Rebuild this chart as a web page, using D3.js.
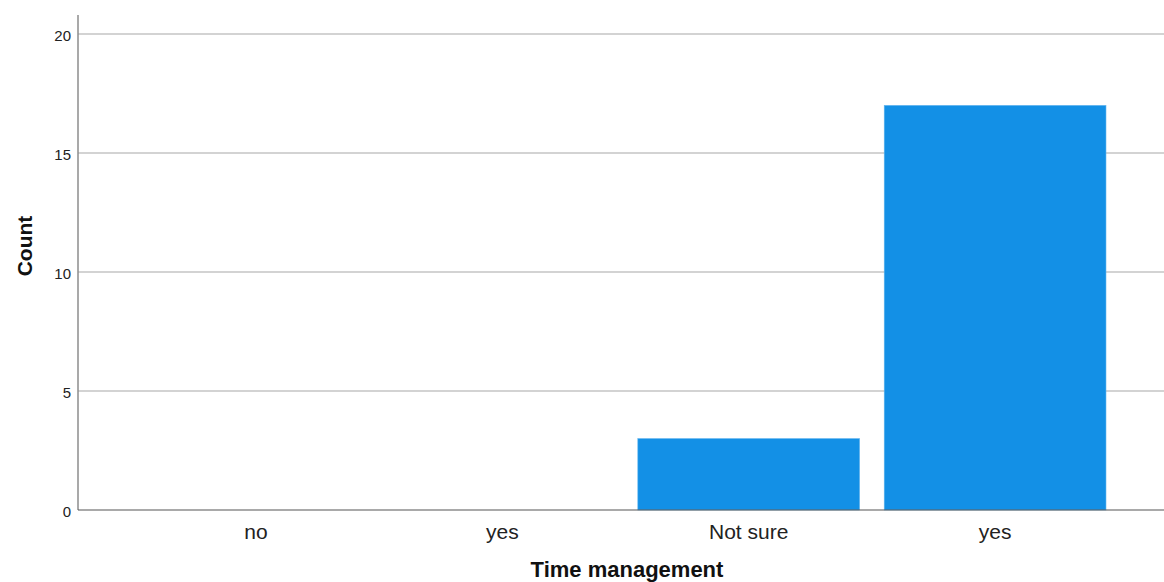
<!DOCTYPE html>
<html>
<head>
<meta charset="utf-8">
<script src="https://cdn.jsdelivr.net/npm/d3@7"></script>
<style>
  body { margin: 0; background: #fff; }
  svg { display: block; font-family: "Liberation Sans", Arial, sans-serif; }
</style>
</head>
<body>
<div id="chart-area"></div>
<script>
// data
const categories = ["no", "yes", "Not sure", "yes "]
const counts = [0, 0, 3, 17]
const yTicks = [0, 5, 10, 15, 20]

const W = 1164, H = 582
const X0 = 78, X1 = 1173
const Y0 = 510, YTOP = 15

const svg = d3.select("#chart-area").append("svg")
  .attr("width", W)
  .attr("height", H)

const x = d3.scaleBand()
  .domain(categories)
  .range([X0, X1])
  .paddingInner(0.1)
  .paddingOuter(0.272)

const y = d3.scaleLinear()
  .domain([0, 20])
  .range([Y0, Y0 - 4 * 119])

// grid lines
svg.append("g")
  .selectAll("line")
  .data(yTicks.filter(d => d > 0))
  .enter().append("line")
  .attr("x1", X0)
  .attr("x2", W)
  .attr("y1", d => y(d))
  .attr("y2", d => y(d))
  .attr("stroke", "#d3d3d3")
  .attr("stroke-width", 2)

// bars
svg.append("g")
  .selectAll("rect")
  .data(categories)
  .enter().append("rect")
  .attr("x", d => x(d))
  .attr("y", (d, i) => y(counts[i]))
  .attr("width", x.bandwidth())
  .attr("height", (d, i) => Y0 - y(counts[i]))
  .attr("fill", "#1390e6")
  .attr("stroke", "#5fb4ee")
  .attr("stroke-width", 0.6)

// y axis
const yAxis = svg.append("g")
  .attr("transform", `translate(${X0}, 0)`)
  .call(d3.axisLeft(y).tickValues(yTicks).tickSize(0).tickPadding(7))
yAxis.select(".domain").remove()
yAxis.selectAll("text")
  .attr("font-size", "15px")
  .attr("dy", "0.42em")
  .attr("fill", "#222")
  .attr("font-family", "Liberation Sans, Arial, sans-serif")
svg.append("line")
  .attr("x1", X0).attr("x2", X0)
  .attr("y1", YTOP).attr("y2", Y0)
  .attr("stroke", "#8c8c8c")
  .attr("stroke-width", 1.5)

// x axis
const xAxis = svg.append("g")
  .attr("transform", `translate(0, ${Y0})`)
  .call(d3.axisBottom(x).tickSize(0).tickFormat(d => d.trim()))
xAxis.select(".domain").remove()
xAxis.selectAll("text")
  .attr("y", 29)
  .attr("dy", null)
  .attr("font-size", "21px")
  .attr("fill", "#222")
  .attr("font-family", "Liberation Sans, Arial, sans-serif")
svg.append("line")
  .attr("x1", X0).attr("x2", W)
  .attr("y1", Y0).attr("y2", Y0)
  .attr("stroke", "#555")
  .attr("stroke-width", 1.2)

// axis titles
svg.append("text")
  .attr("x", 627)
  .attr("y", 577)
  .attr("text-anchor", "middle")
  .attr("font-size", "22px")
  .attr("font-weight", "bold")
  .attr("fill", "#111")
  .text("Time management")

svg.append("text")
  .attr("transform", `translate(32, 246) rotate(-90)`)
  .attr("text-anchor", "middle")
  .attr("font-size", "21px")
  .attr("font-weight", "bold")
  .attr("fill", "#111")
  .text("Count")
</script>
</body>
</html>
